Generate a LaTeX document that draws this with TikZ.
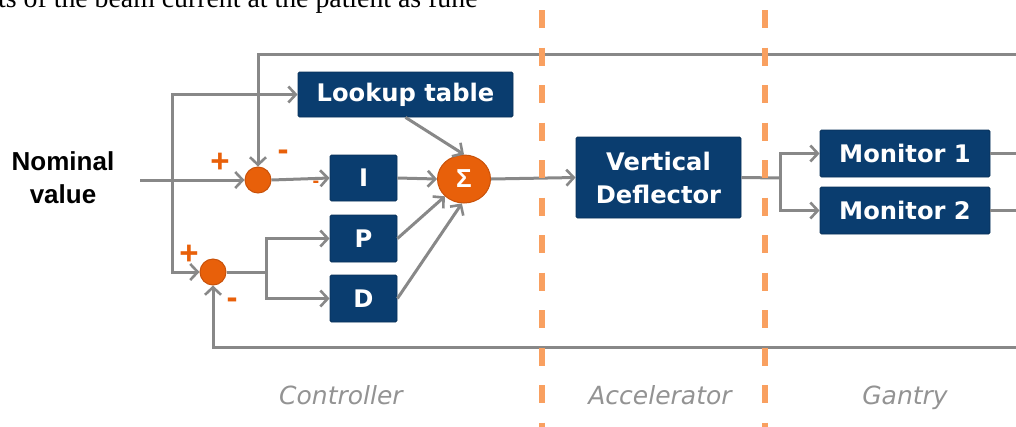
\documentclass[tikz,border=0pt]{standalone}
\usepackage{fontspec}
\setmainfont{Liberation Sans}
\newfontfamily\seriffont{Liberation Serif}
\newfontfamily\boxfont{DejaVu Sans}
\usetikzlibrary{arrows.meta,shapes.geometric}
\definecolor{boxblue}{HTML}{0A3D6F}
\definecolor{dotc}{HTML}{E8600A}
\definecolor{dotb}{HTML}{C9520A}
\definecolor{wire}{HTML}{888888}
\definecolor{sepc}{HTML}{F9A060}
\definecolor{labc}{HTML}{939393}
\begin{document}
\begin{tikzpicture}[x=1pt,y=-1pt,
 blk/.style={draw=boxblue!80!black, line width=0.8pt, fill=boxblue, text=white,
   font=\boxfont\fontsize{24.2}{33}\selectfont\bfseries, inner sep=0pt, rounded corners=1.5pt, align=center},
 sumc/.style={circle, fill=dotc, draw=dotb, line width=1pt, inner sep=0pt, minimum size=26pt},
 wirel/.style={draw=wire, line width=3pt},
 arr/.style={wirel, -{Straight Barb[length=7.5pt,width=16pt,line width=2.6pt]}},
 sgn/.style={text=dotc, font=\fontsize{33}{33}\selectfont\bfseries, inner sep=0pt},
 sepl/.style={draw=sepc, line width=6pt, dash pattern=on 18pt off 19.5pt},
 capt/.style={text=labc, anchor=base, font=\boxfont\itshape\fontsize{25}{28}\selectfont}
]
\useasboundingbox (0,0) rectangle (1016,426);
\clip (0,0) rectangle (1016,426);

% cut-off text line at the top
\node[anchor=base west, inner sep=0pt, font=\seriffont\fontsize{27.8}{28}\selectfont] (toptext) at (-2,7.5) {ts of the beam current at the patient as fune};

% input label
\node[align=center, font=\fontsize{26}{33}\selectfont\bfseries] (nom) at (63,178) {Nominal\\value};

% blocks
\node[blk, minimum width=215pt, minimum height=45pt] (lut) at (405.5,94.5) {Lookup table};
\node[blk, minimum width=67pt, minimum height=46pt] (bi) at (363.5,178) {I};
\node[blk, minimum width=67pt, minimum height=47pt] (bp) at (363.5,238.5) {P};
\node[blk, minimum width=67pt, minimum height=47pt] (bd) at (363.5,298.5) {D};
\node[blk, minimum width=165pt, minimum height=81pt] (vd) at (658.5,177.5) {Vertical\\Deflector};
\node[blk, minimum width=170pt, minimum height=47pt] (m1) at (905,153.5) {Monitor 1};
\node[blk, minimum width=170pt, minimum height=47pt] (m2) at (905,210.5) {Monitor 2};

% summing points
\node[sumc] (s1) at (258,180) {};
\node[sumc] (s2) at (213,272) {};
\node[ellipse, fill=dotc, draw=dotb, line width=1pt, inner sep=0pt, minimum width=53pt, minimum height=48pt,
      text=white, font=\fontsize{26}{26}\selectfont\bfseries] (sig) at (464,179) {Σ};

% signs
\node[sgn] (p1) at (220,163) {+};
\node[sgn] (n1) at (283,155) {-};
\node[sgn, font=\fontsize{20}{20}\selectfont\bfseries] (n1b) at (316,184) {-};
\node[sgn] (p2) at (189,255) {+};
\node[sgn] (n2) at (232,303) {-};

% coordinates
\coordinate (in0) at (140,180);
\coordinate (j) at (172,180);
\coordinate (j2) at (266,272);
\coordinate (j3) at (780,178);
\coordinate (tr) at (1016,54);
\coordinate (br) at (1016,347);
\coordinate (o1) at (1016,153.5);
\coordinate (o2) at (1016,210.5);

% connectors
\draw[arr] (in0) -- (s1.west);
\draw[arr] (j) |- (lut.west);
\draw[arr] (j) |- (s2.west);
\draw[arr] (tr) -| (s1.north);
\draw[arr] (br) -| (s2.south);
\draw[arr] (s1.east) -- (bi.west);
\draw[wirel] (s2.east) -- (j2);
\draw[arr] (j2) |- (bp.west);
\draw[arr] (j2) |- (bd.west);
\draw[arr] (bi.east) -- (sig.west);
\draw[arr] (lut.south) -- (sig.north);
\draw[arr] (bp.east) -- (sig.south west);
\draw[arr] (bd.east) -- (sig.265);
\draw[arr] (sig.east) -- (vd.west);
\draw[wirel] (vd.east) -- (j3);
\draw[arr] (j3) |- (m1.west);
\draw[arr] (j3) |- (m2.west);
\draw[wirel] (m1.east) -- (o1);
\draw[wirel] (m2.east) -- (o2);

% domain separators
\coordinate (d1t) at (542,10);
\coordinate (d1b) at (542,430);
\coordinate (d2t) at (765,10);
\coordinate (d2b) at (765,430);
\draw[sepl] (d1t) -- (d1b);
\draw[sepl] (d2t) -- (d2b);

% captions
\node[capt] (cc) at (341,404) {Controller};
\node[capt] (ca) at (660,404) {Accelerator};
\node[capt] (cg) at (905,404) {Gantry};
\end{tikzpicture}
\end{document}
